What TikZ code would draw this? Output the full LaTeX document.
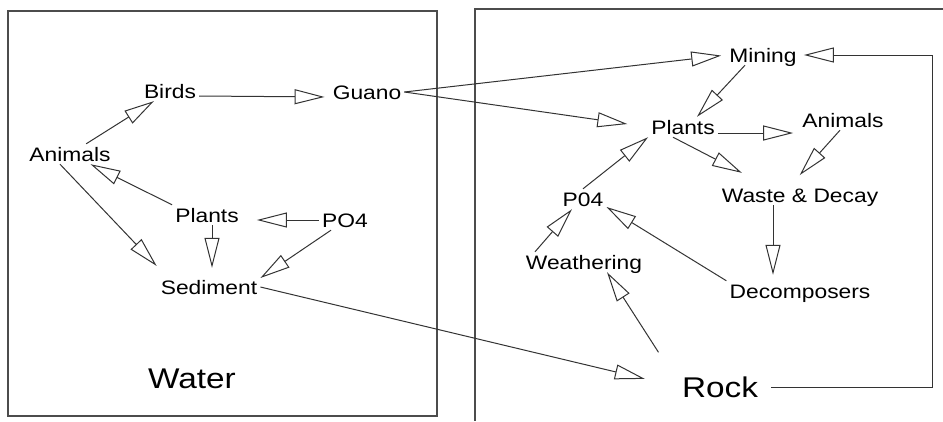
\documentclass[tikz,border=0pt]{standalone}
\usepackage{fontspec}
\setmainfont{Liberation Sans}[FakeStretch=1.17]
\usetikzlibrary{arrows.meta}

\tikzset{
  lbl/.style={inner sep=3pt, font=\fontsize{19.5}{22}\selectfont, text height=14pt, text depth=0pt},
  biglbl/.style={inner sep=3pt, font=\fontsize{28.5}{32}\selectfont, text height=21pt, text depth=0pt},
  flow/.style={draw=black!80, line width=1pt, -{Triangle[open,length=30pt,width=15pt]}},
  frame/.style={draw=black!70, line width=1.3pt}
}

\begin{document}
\begin{tikzpicture}[x=1pt,y=-1pt]
\useasboundingbox (0,0) rectangle (943,421);

% water side
\draw[frame] (8,11) rectangle (437,416);
\node[lbl] (birds) at (170,91) {Birds};
\node[lbl] (guano) at (367,92) {Guano};
\node[lbl] (animals) at (70,154) {Animals};
\node[lbl] (plantsW) at (207,215) {Plants};
\node[lbl] (po4W) at (345,220) {PO4};
\node[lbl] (sediment) at (209,287) {Sediment};
\node[biglbl] (water) at (192,378) {Water};

% rock side
\draw[frame] (943,9) -- (475,9) -- (475,421);
\node[lbl] (mining) at (763,55) {Mining};
\node[lbl] (plantsR) at (683,127) {Plants};
\node[lbl] (animalsR) at (843,120) {Animals};
\node[lbl] (waste) at (800,195) {Waste \& Decay};
\node[lbl] (po4R) at (583,199) {P04};
\node[lbl] (weathering) at (584,262) {Weathering};
\node[lbl] (decomp) at (800,291) {Decomposers};
\node[biglbl] (rock) at (720,387) {Rock};

% flows in the water
\draw[flow, shorten >=5pt] ([yshift=-5pt]birds.east) -- ([yshift=-5pt]guano.west);
\draw[flow] (animals) -- (birds);
\draw[flow] (plantsW.north west) -- (animals);
\draw[flow, shorten >=15pt] ([xshift=-10pt]animals.south) -- ([xshift=-42pt]sediment.north);
\draw[flow, shorten >=9pt] ([xshift=5pt]plantsW.south) -- ([xshift=3pt]sediment.north);
\draw[flow, shorten >=15pt] (po4W.west) -- (plantsW.east |- po4W.west);
\draw[flow] ([xshift=12pt]po4W.south west) -- ([yshift=9pt]sediment.east);

% from water to rock
\draw[flow, shorten >=35pt] (sediment.east) -- (rock.west);
\draw[flow, shorten >=5pt] (guano.east) -- (mining.west);
\draw[flow, shorten >=21pt] (guano.east) -- (plantsR.west);

% flows on the rock
\draw[flow] ([xshift=-18pt]mining.south) -- ([xshift=14pt]plantsR.north);
\draw[flow, shorten <=10pt, shorten >=4pt] (rock.east) -- ++(171,0) |- (mining.east);
\draw[flow, shorten >=6pt] ([yshift=-6pt]plantsR.east) -- ([yshift=-13pt]animalsR.west);
\draw[flow, shorten >=26pt] ([xshift=-10pt]plantsR.south) -- ([xshift=-35pt]waste.north);
\draw[flow, shorten >=13pt] ([xshift=-3pt]animalsR.south) -- ([xshift=-9pt]waste.north);
\draw[flow] (po4R.north) -- (plantsR.south west);
\draw[flow] ([xshift=-49pt]weathering.north) -- ([xshift=-11pt]po4R.south);
\draw[flow] (decomp.north west) -- ([yshift=-8pt]po4R.east);
\draw[flow, shorten >=6pt] ([xshift=-27pt]waste.south) -- ([xshift=-27pt]decomp.north);
\draw[flow, shorten <=25pt] ([xshift=-48pt]rock.north) -- ([xshift=23pt]weathering.south);

\end{tikzpicture}
\end{document}
